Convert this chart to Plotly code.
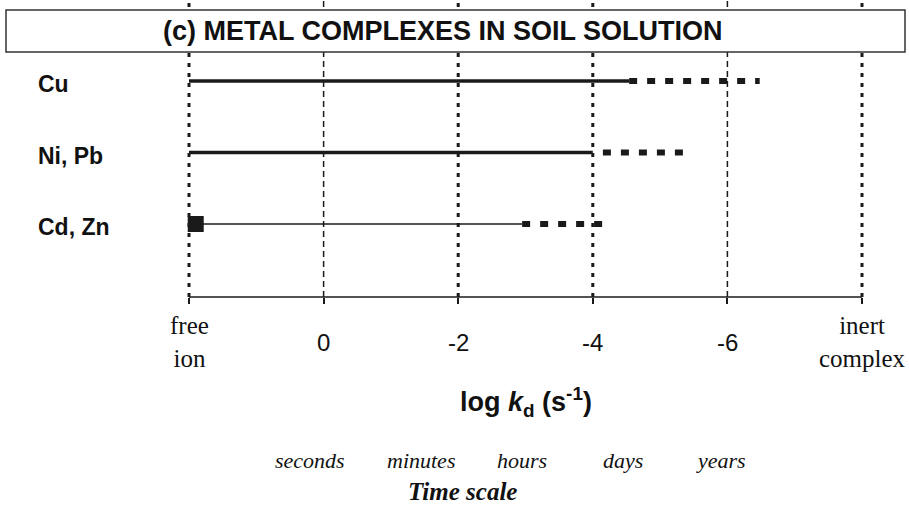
import plotly.graph_objects as go

# ---- data ----
rows = ["Cu", "Ni, Pb", "Cd, Zn"]
row_index = [0, 1, 2]
free_ion = 2.0            # position of "free ion" on the log kd axis
inert = -8.0              # position of "inert complex"
solid_end = [-4.54, -4.0, -2.95]
dash_start = [-4.54, -4.15, -2.95]
dash_end = [-6.48, -5.41, -4.2]
solid_width = [3.5, 3.5, 1.6]

square_x = [1.9]
square_row = [2]

tick_vals = [2, 0, -2, -4, -6, -8]
tick_text = ["free<br>ion", "0", "-2", "-4", "-6", "inert<br>complex"]
tick_serif = [True, False, False, False, False, True]
grid_heavy = [True, False, True, True, False, True]

time_labels = ["seconds", "minutes", "hours", "days", "years"]
time_pos = [0.2, -1.45, -2.95, -4.45, -5.9]

title = "(c) METAL COMPLEXES IN SOIL SOLUTION"

SANS = "Liberation Sans, Arial, sans-serif"
SERIF = "Liberation Serif, Times New Roman, serif"

fig = go.Figure()

for i, r in enumerate(rows):
    fig.add_trace(go.Scatter(
        x=[free_ion, solid_end[i]], y=[row_index[i], row_index[i]],
        mode="lines", line=dict(color="#1a1a1a", width=solid_width[i]),
        showlegend=False, hoverinfo="skip"))
    fig.add_trace(go.Scatter(
        x=[dash_start[i], dash_end[i]], y=[row_index[i], row_index[i]],
        mode="lines", line=dict(color="#1a1a1a", width=6, dash="8px,10px"),
        showlegend=False, hoverinfo="skip"))

fig.add_trace(go.Scatter(
    x=square_x, y=square_row, mode="markers",
    marker=dict(symbol="square", size=16, color="#1a1a1a"),
    showlegend=False, hoverinfo="skip"))

AXIS_Y = 1 - 297 / 510

shapes = []
for v, heavy in zip(tick_vals, grid_heavy):
    if heavy:
        line = dict(color="#1a1a1a", width=3, dash="4px,6px")
    else:
        line = dict(color="#1a1a1a", width=1.5, dash="6px,4px")
    shapes.append(dict(type="line", xref="x", yref="paper", x0=v, x1=v,
                       y0=AXIS_Y, y1=1, line=line, layer="below"))
# axis baseline between free ion and inert complex
shapes.append(dict(type="line", xref="x", yref="paper", x0=free_ion, x1=inert,
                   y0=AXIS_Y, y1=AXIS_Y, line=dict(color="#1a1a1a", width=1.5)))
# title box
shapes.append(dict(type="rect", xref="paper", yref="paper",
                   x0=6 / 909, x1=905 / 909, y0=1 - 52 / 510, y1=1 - 10 / 510,
                   line=dict(color="#333333", width=1.5), fillcolor="white",
                   layer="above"))

annotations = []
annotations.append(dict(text="<b>" + title + "</b>", xref="paper", yref="paper",
                        x=443 / 909, y=1 - 31 / 510, showarrow=False,
                        xanchor="center", yanchor="middle",
                        font=dict(family=SANS, size=27, color="#111111")))
for i, r in enumerate(rows):
    annotations.append(dict(text="<b>" + r + "</b>", xref="paper", yref="y",
                            x=36 / 909, y=row_index[i], yshift=-3,
                            showarrow=False, xanchor="left", yanchor="middle",
                            font=dict(family=SANS, size=23, color="#111111")))
for v, t, serif in zip(tick_vals, tick_text, tick_serif):
    annotations.append(dict(text=t, xref="x", yref="paper", x=v,
                            y=1 - 342 / 510, showarrow=False,
                            xanchor="center", yanchor="middle",
                            font=dict(family=SERIF if serif else SANS,
                                      size=25 if serif else 24,
                                      color="#111111")))
annotations.append(dict(text="<b>log <i>k</i><sub>d</sub> (s<sup>-1</sup>)</b>",
                        xref="paper", yref="paper", x=526 / 909, y=1 - 402 / 510,
                        showarrow=False, xanchor="center", yanchor="middle",
                        font=dict(family=SANS, size=27, color="#111111")))
for lab, p in zip(time_labels, time_pos):
    annotations.append(dict(text="<i>" + lab + "</i>", xref="x", yref="paper",
                            x=p, y=1 - 460 / 510, showarrow=False,
                            xanchor="center", yanchor="middle",
                            font=dict(family=SERIF, size=22, color="#111111")))
annotations.append(dict(text="<b><i>Time scale</i></b>", xref="x", yref="paper",
                        x=-2.07, y=1 - 491 / 510, showarrow=False,
                        xanchor="center", yanchor="middle",
                        font=dict(family=SERIF, size=25, color="#111111")))

px_per_unit = (862 - 189) / 10.0
x_left = free_ion + 189 / px_per_unit
x_right = free_ion - (909 - 189) / px_per_unit
py_per_row = 71.5
y_top = -81 / py_per_row
y_bottom = (510 - 81) / py_per_row

fig.update_layout(
    width=909, height=510,
    margin=dict(l=0, r=0, t=0, b=0),
    paper_bgcolor="white", plot_bgcolor="white",
    xaxis=dict(range=[x_left, x_right], showgrid=False, zeroline=False,
               showline=False, tickvals=tick_vals, showticklabels=False,
               ticks="outside", ticklen=6, tickwidth=1.5, tickcolor="#1a1a1a",
               anchor="free", position=AXIS_Y, domain=[0, 1]),
    yaxis=dict(range=[y_bottom, y_top], showgrid=False, zeroline=False,
               showline=False, showticklabels=False, ticks="", domain=[0, 1]),
    shapes=shapes, annotations=annotations,
)

fig.write_html("out.html")
